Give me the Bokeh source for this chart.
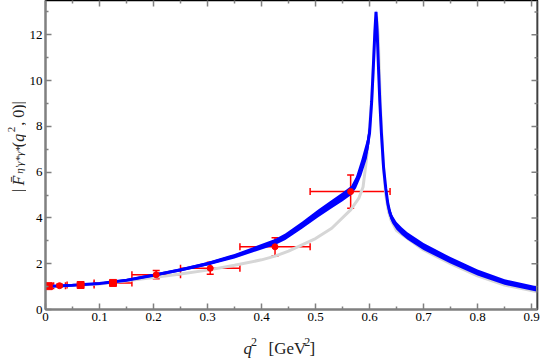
import math
from bokeh.plotting import figure
from bokeh.layouts import column, row
from bokeh.models import Range1d, FixedTicker, Whisker, ColumnDataSource, Label, TeeHead, Span
from bokeh.embed import file_html
from bokeh.resources import INLINE

# ---- data ----
q2_band = [0.0, 0.05, 0.1, 0.15, 0.2, 0.25, 0.3, 0.35, 0.383, 0.425, 0.444, 0.475, 0.505, 0.53, 0.55,
           0.566, 0.575, 0.585, 0.595, 0.6, 0.604, 0.607, 0.61, 0.612, 0.614, 0.617, 0.619, 0.622,
           0.626, 0.63, 0.634, 0.638, 0.642, 0.65, 0.66, 0.67, 0.7, 0.75, 0.8, 0.85, 0.911]
F_band = [1.01, 1.06, 1.14, 1.28, 1.5, 1.73, 2.0, 2.33, 2.6, 2.95, 3.18, 3.68, 4.2, 4.6, 4.92,
          5.2, 5.55, 6.2, 7.0, 7.7, 9.1, 10.6, 12.2, 13.0, 12.2, 10.3, 9.1, 7.7,
          6.2, 5.3, 4.6, 4.2, 3.95, 3.65, 3.42, 3.22, 2.75, 2.15, 1.62, 1.2, 0.89]
F_band_err = [0.03, 0.04, 0.04, 0.05, 0.06, 0.07, 0.08, 0.1, 0.11, 0.13, 0.14, 0.15, 0.17, 0.18, 0.19,
              0.2, 0.25, 0.35, 0.4, 0.4, 0.35, 0.3, 0.25, 0.1, 0.25, 0.3, 0.3, 0.3,
              0.3, 0.28, 0.25, 0.2, 0.18, 0.17, 0.16, 0.16, 0.15, 0.14, 0.13, 0.12, 0.11]

q2_gray = [0.0, 0.1, 0.2, 0.25, 0.3, 0.35, 0.4, 0.425, 0.45, 0.5, 0.53, 0.565, 0.58, 0.588, 0.594,
           0.6, 0.605, 0.61, 0.613, 0.616, 0.62, 0.625, 0.63, 0.635, 0.64, 0.65, 0.7, 0.75, 0.8, 0.85, 0.911]
F_gray = [0.99, 1.11, 1.4, 1.55, 1.72, 1.93, 2.17, 2.33, 2.55, 3.1, 3.55, 4.35, 4.85, 5.35, 6.5,
          7.9, 9.6, 12.0, 12.8, 12.0, 9.0, 6.5, 5.0, 4.3, 3.9, 3.45, 2.6, 2.0, 1.47, 1.07, 0.77]

q2_pts = [0.006, 0.026, 0.065, 0.125, 0.205, 0.305, 0.425, 0.565]
F_pts = [1.02, 1.04, 1.07, 1.16, 1.52, 1.80, 2.74, 5.15]
q2_lo = [0.0, 0.015, 0.04, 0.09, 0.16, 0.25, 0.36, 0.49]
q2_hi = [0.012, 0.037, 0.09, 0.16, 0.25, 0.36, 0.49, 0.638]
F_err = [0.08, 0.06, 0.07, 0.1, 0.18, 0.26, 0.40, 0.73]
square_pts = [True, False, True, True, False, False, False, False]

x_ticks = [0.0, 0.1, 0.2, 0.3, 0.4, 0.5, 0.6, 0.7, 0.8, 0.9]
x_minor = [0.05, 0.15, 0.25, 0.35, 0.45, 0.55, 0.65, 0.75, 0.85]
y_ticks = [0, 2, 4, 6, 8, 10, 12]
y_minor = [1, 3, 5, 7, 9, 11, 13]
X_MAX = 0.911
Y_MAX = 13.5

SERIF = "Liberation Serif"
AX = "#808080"
TXT = "#222222"

# layout sizes (pixels)
W, H = 540, 358
YLAB_W = 26            # strip holding the y-axis title
TOP_H = 328            # height of the row holding the plot
XLAB_H = H - TOP_H     # strip holding the x-axis title
FRAME_BOTTOM = 309     # page y of the plot's x axis

# ---------------- main plot ----------------
p = figure(width=W - YLAB_W, height=TOP_H, output_backend="svg", toolbar_location=None,
           x_range=Range1d(0, X_MAX), y_range=Range1d(0, Y_MAX),
           min_border_left=16, min_border_right=3, min_border_top=0,
           min_border_bottom=TOP_H - FRAME_BOTTOM)
p.grid.visible = False
p.outline_line_color = "black"
p.outline_line_width = 1.5
p.background_fill_color = "white"
p.border_fill_color = "white"

def style_axis(ax, ticks, minor):
    ax.ticker = FixedTicker(ticks=ticks, minor_ticks=minor)
    ax.major_tick_in = 6
    ax.major_tick_out = 0
    ax.minor_tick_in = 3
    ax.minor_tick_out = 0
    ax.axis_line_color = AX
    ax.axis_line_width = 2
    ax.major_tick_line_color = AX
    ax.major_tick_line_width = 1.5
    ax.minor_tick_line_color = AX
    ax.minor_tick_line_width = 1.5
    ax.major_label_text_font = SERIF
    ax.major_label_text_font_size = "13px"
    ax.major_label_text_color = "black"
    ax.major_label_standoff = 3

style_axis(p.xaxis[0], x_ticks, x_minor)
style_axis(p.yaxis[0], y_ticks, y_minor)

# right frame edge in gray, mirror ticks on top and right edges
p.add_layout(Span(location=X_MAX, dimension="height", line_color=AX, line_width=3))
p.scatter(x_ticks, [Y_MAX] * len(x_ticks), marker="dash", size=12, angle=math.pi / 2,
          line_color=AX, line_width=1.5)
p.scatter(x_minor, [Y_MAX] * len(x_minor), marker="dash", size=6, angle=math.pi / 2,
          line_color=AX, line_width=1.5)
p.scatter([X_MAX] * len(y_ticks), y_ticks, marker="dash", size=12, line_color=AX, line_width=1.5)
p.scatter([X_MAX] * len(y_minor), y_minor, marker="dash", size=6, line_color=AX, line_width=1.5)

# gray curve
p.line(q2_gray, F_gray, line_color="#d6d6d6", line_width=3)

# blue band
lo = [f - e for f, e in zip(F_band, F_band_err)]
hi = [f + e for f, e in zip(F_band, F_band_err)]
p.varea(x=q2_band, y1=lo, y2=hi, fill_color="#0000ff")
p.line(q2_band, F_band, line_color="#0000ff", line_width=3)

# data points with error bars
RED = "#ff0000"
src = ColumnDataSource(dict(x=q2_pts, y=F_pts, xlo=q2_lo, xhi=q2_hi,
                            ylo=[f - e for f, e in zip(F_pts, F_err)],
                            yhi=[f + e for f, e in zip(F_pts, F_err)]))
for dim, base, lower, upper in (("width", "y", "xlo", "xhi"), ("height", "x", "ylo", "yhi")):
    p.add_layout(Whisker(source=src, base=base, lower=lower, upper=upper, dimension=dim,
                         line_color=RED, line_width=1.5,
                         lower_head=TeeHead(size=7, line_color=RED, line_width=1.5),
                         upper_head=TeeHead(size=7, line_color=RED, line_width=1.5)))
sx = [x for x, s in zip(q2_pts, square_pts) if s]
sy = [y for y, s in zip(F_pts, square_pts) if s]
cx = [x for x, s in zip(q2_pts, square_pts) if not s]
cy = [y for y, s in zip(F_pts, square_pts) if not s]
p.scatter(sx, sy, marker="square", size=7, fill_color=RED, line_color=RED)
p.scatter(cx, cy, marker="circle", size=6, fill_color=RED, line_color=RED)

# ---------------- axis-title strips (text only) ----------------
def text_strip(w, h):
    f = figure(width=w, height=h, output_backend="svg", toolbar_location=None,
               x_range=Range1d(0, 1), y_range=Range1d(0, 1),
               x_axis_location=None, y_axis_location=None,
               min_border=0, min_border_left=0, min_border_right=0,
               min_border_top=0, min_border_bottom=0)
    f.grid.visible = False
    f.outline_line_color = None
    f.background_fill_color = "white"
    f.border_fill_color = "white"
    return f

ylab = text_strip(YLAB_W, TOP_H)
xlab = text_strip(W, XLAB_H)

def lab(fig, top_px, text, xpx, ypx, size, italic=False, angle=0.0):
    # xpx, ypx: page pixels; top_px: page y of the strip's top
    bottom_px = top_px + fig.height
    fig.add_layout(Label(x=xpx, y=bottom_px - ypx, x_units="screen", y_units="screen",
                         text=text, text_font=SERIF, text_font_size=size,
                         text_font_style="italic" if italic else "normal",
                         text_color=TXT, angle=angle,
                         text_align="left", text_baseline="alphabetic"))

R = math.pi / 2
lab(ylab, 0, "|", 17.5, 210.7, "16px", angle=R)
lab(ylab, 0, "F\u0304", 17.5, 204, "16px", italic=True, angle=R)
lab(ylab, 0, "\u03b7\u2032\u03b3*\u03b3*", 18.5, 192.3, "11px", italic=True, angle=R)
lab(ylab, 0, "(", 17.5, 165.7, "16px", angle=R)
lab(ylab, 0, "q", 17.5, 160.3, "16px", italic=True, angle=R)
lab(ylab, 0, "2", 11, 150.7, "11px", angle=R)
lab(ylab, 0, ", 0)|", 17.5, 144.3, "16px", angle=R)

lab(xlab, TOP_H, "q", 243, 348, "17px", italic=True)
lab(xlab, TOP_H, "2", 250.5, 341, "12px")
lab(xlab, TOP_H, "[GeV", 268, 348, "17px")
lab(xlab, TOP_H, "2", 303.7, 341, "12px")
lab(xlab, TOP_H, "]", 309, 348, "17px")

layout = column(row(ylab, p, spacing=0), xlab, spacing=0)
open("out.html", "w").write(file_html(layout, INLINE))
